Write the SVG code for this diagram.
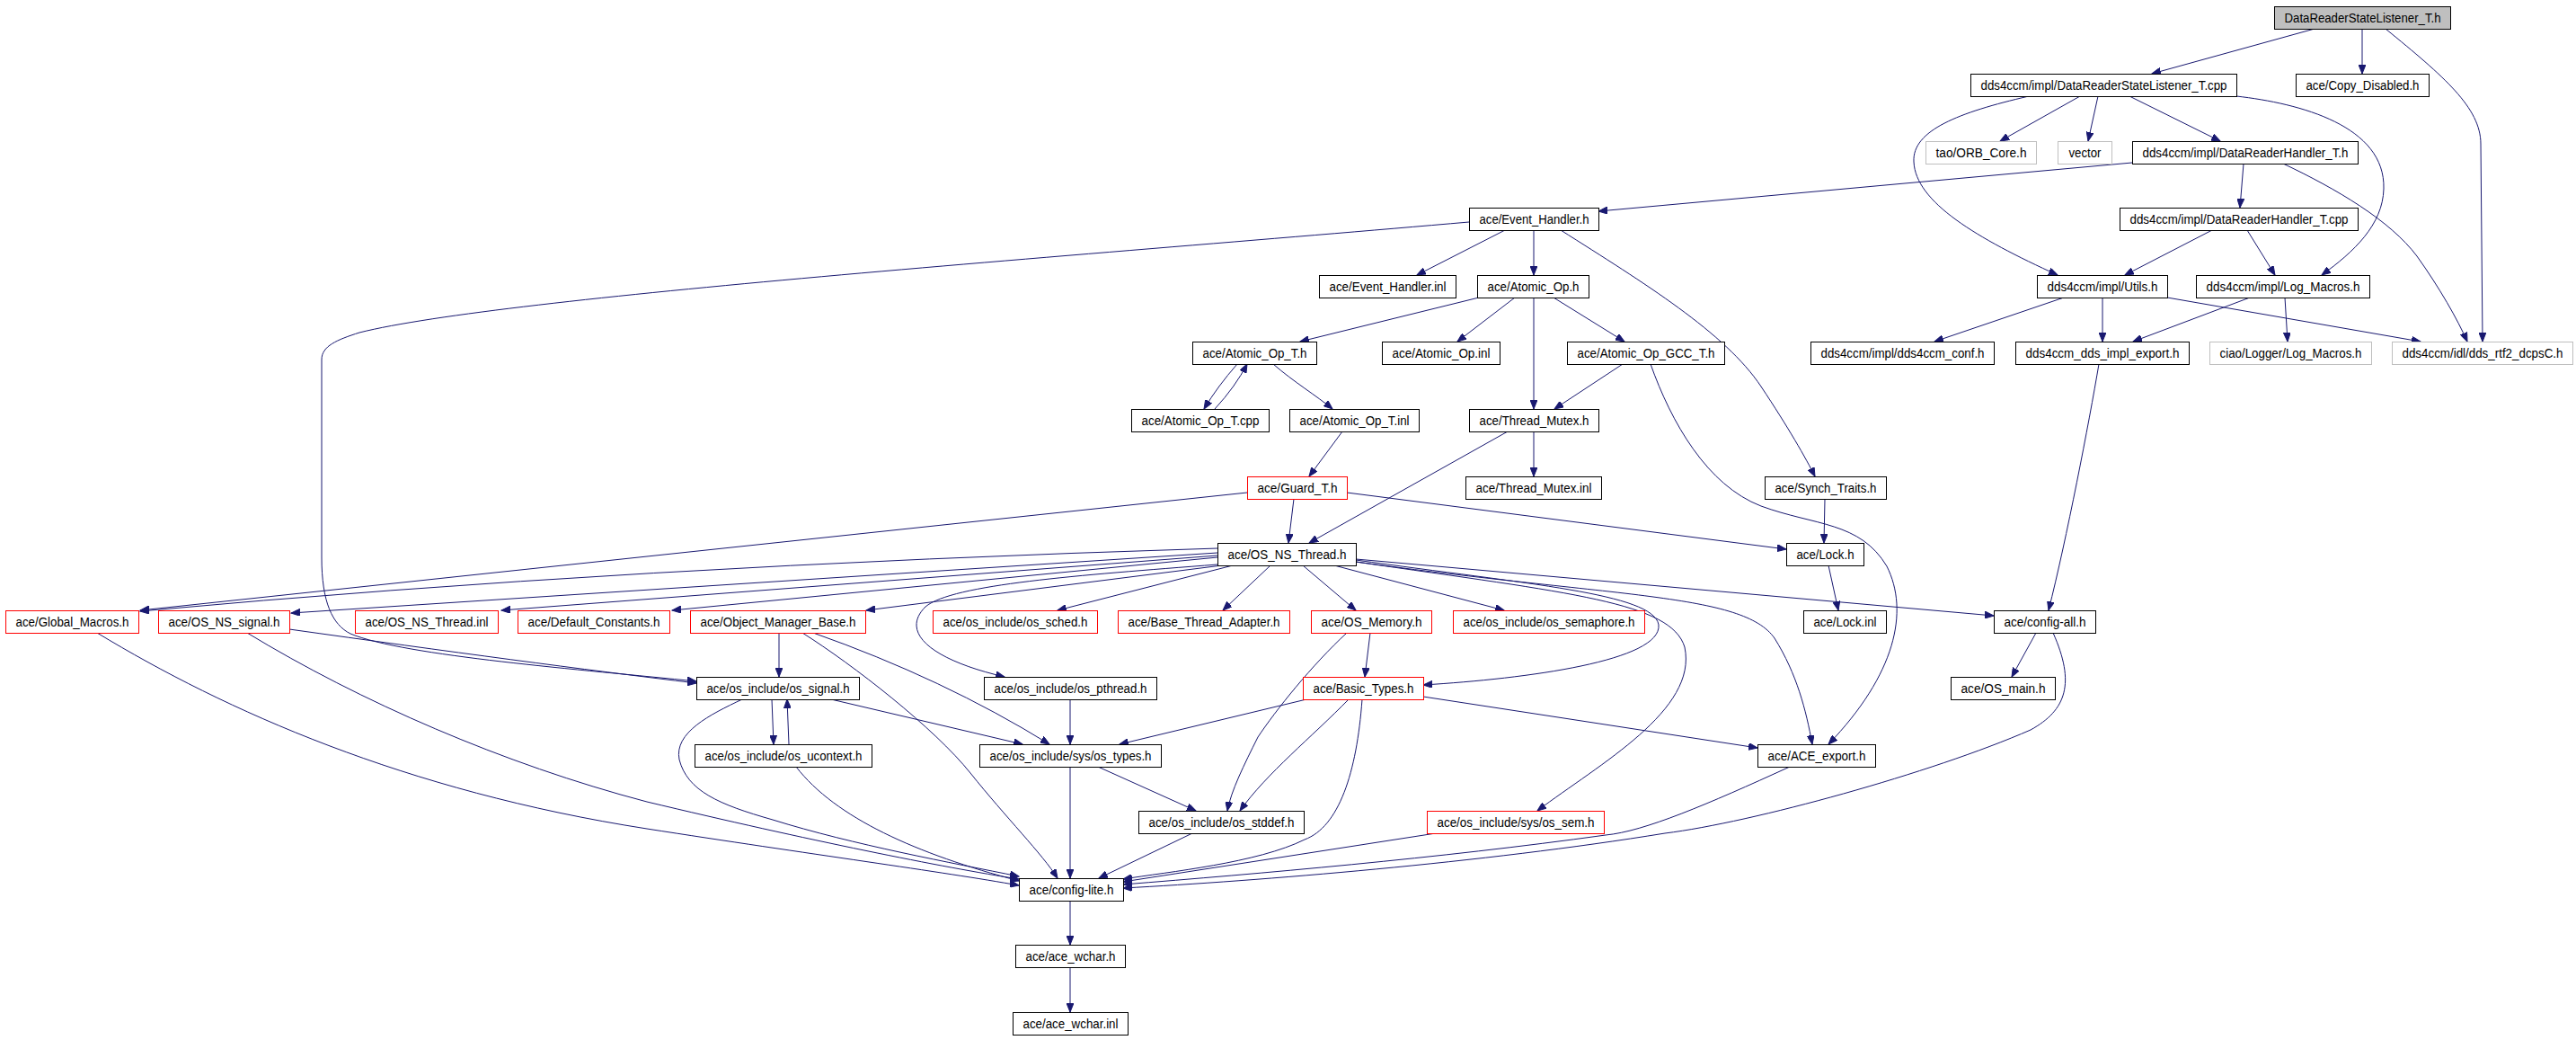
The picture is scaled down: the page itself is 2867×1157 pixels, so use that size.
<svg xmlns="http://www.w3.org/2000/svg" width="2867" height="1157" viewBox="0 0 2867 1157">
<defs>
<marker id="a" markerWidth="11" markerHeight="8" refX="10" refY="4" orient="auto" markerUnits="userSpaceOnUse">
<path d="M0,0 L10,4 L0,8 z" fill="#191970" stroke="#191970" stroke-width="1"/>
</marker>
<style>
rect{fill:#fff;stroke:#000;stroke-width:1}
.r rect{stroke:#ff0000}
.g rect{stroke:#bfbfbf}
.t rect{fill:#bfbfbf}
text{font-family:"Liberation Sans",Arial,sans-serif;font-size:14px;text-anchor:middle;fill:#000}
#edges path{fill:none;stroke:#191970;stroke-width:1;marker-end:url(#a)}
</style>
</defs>
<rect x="0" y="0" width="2867" height="1157" style="fill:#fff;stroke:none"/>
<g id="edges">
<path d="M2576,32 L2395,82"/>
<path d="M2629,32 L2629,82"/>
<path d="M2655,32 C2720,85 2761,120 2761,160 L2763,380"/>
<path d="M2315,107 L2226,157"/>
<path d="M2335,107 L2324,157"/>
<path d="M2370,107 L2471,157"/>
<path d="M2258,107 C2180,125 2128,145 2130,180 C2132,225 2200,265 2290,306"/>
<path d="M2489,107 C2560,115 2655,140 2653,210 C2652,250 2620,280 2584,306"/>
<path d="M2373,181 L1779,235"/>
<path d="M2497,182 L2493,231"/>
<path d="M2541,182 C2600,210 2660,245 2690,285 C2715,320 2735,355 2746,380"/>
<path d="M2462,256 L2365,306"/>
<path d="M2501,256 L2532,306"/>
<path d="M2297,331 L2153,380"/>
<path d="M2340,331 L2340,380"/>
<path d="M2412,331 L2694,380"/>
<path d="M2504,331 L2374,380"/>
<path d="M2543,331 L2546,380"/>
<path d="M2336,405 C2325,470 2300,600 2280,679"/>
<path d="M1675,256 L1577,306"/>
<path d="M1707,256 L1707,306"/>
<path d="M1737,256 C1830,315 1920,370 1960,430 C1990,475 2010,510 2020,530"/>
<path d="M1635,247 C1200,285 560,330 400,370 C375,378 358,385 358,400 L358,620 C358,670 370,695 390,705 C450,730 650,745 775,758"/>
<path d="M1646,331 L1447,380"/>
<path d="M1686,331 L1622,380"/>
<path d="M1729,331 L1808,380"/>
<path d="M1707,331 L1707,455"/>
<path d="M1377,405 Q1355,430 1340,455"/>
<path d="M1352,455 Q1375,430 1388,405"/>
<path d="M1417,405 C1440,425 1465,440 1483,455"/>
<path d="M1806,405 L1730,455"/>
<path d="M1837,405 C1860,470 1900,540 1960,563 C2020,585 2070,580 2100,630 C2125,680 2110,750 2035,828"/>
<path d="M1494,480 L1457,530"/>
<path d="M1707,480 L1707,530"/>
<path d="M1678,480 L1457,604"/>
<path d="M2031,555 L2030,604"/>
<path d="M1440,555 L1434,604"/>
<path d="M1499,548 L1988,611"/>
<path d="M2035,629 L2046,679"/>
<path d="M1388,548 L156,679"/>
<path d="M1355,610 Q700,630 156,680"/>
<path d="M1355,615 L324,682"/>
<path d="M1355,618 L558,679"/>
<path d="M1355,620 L748,679"/>
<path d="M1360,629 L964,679"/>
<path d="M1355,628 C1200,640 1060,650 1030,675 C1000,705 1040,735 1118,753"/>
<path d="M1372,629 L1177,679"/>
<path d="M1414,629 L1361,679"/>
<path d="M1450,629 L1509,679"/>
<path d="M1485,629 L1674,679"/>
<path d="M1509,623 C1700,650 1840,660 1846,695 C1850,735 1700,755 1584,762"/>
<path d="M1509,625 C1750,660 1860,670 1875,720 C1890,790 1780,850 1711,902"/>
<path d="M1509,625 C1800,665 1940,660 1975,710 C2000,750 2010,790 2017,828"/>
<path d="M1509,622 L2219,685"/>
<path d="M322,700 C500,725 650,745 775,760"/>
<path d="M275,704 C400,780 560,850 720,892 C900,935 1050,965 1134,978"/>
<path d="M108,704 C250,790 450,880 720,922 C900,950 1050,970 1134,985"/>
<path d="M867,704 L867,753"/>
<path d="M905,704 Q1050,755 1168,828"/>
<path d="M893,704 C950,740 1040,810 1080,860 C1120,910 1160,950 1177,977"/>
<path d="M859,778 L861,828"/>
<path d="M878,828 L876,778"/>
<path d="M925,778 L1138,828"/>
<path d="M826,778 C790,795 750,815 756,845 C765,880 800,895 860,912 C950,940 1060,960 1134,975"/>
<path d="M886,853 C930,910 1020,950 1134,980"/>
<path d="M1191,778 L1191,828"/>
<path d="M1454,778 L1246,828"/>
<path d="M1499,704 C1460,740 1420,790 1400,820 C1385,850 1370,880 1366,902"/>
<path d="M1501,778 C1460,820 1410,860 1380,902"/>
<path d="M1516,778 C1510,860 1490,920 1452,934 C1400,960 1300,970 1250,978"/>
<path d="M1584,775 L1956,832"/>
<path d="M1525,704 L1519,753"/>
<path d="M1222,853 L1331,902"/>
<path d="M1191,853 L1191,977"/>
<path d="M1327,927 L1223,977"/>
<path d="M1598,927 L1250,981"/>
<path d="M1992,853 C1900,895 1830,925 1787,929 C1600,955 1400,972 1250,984"/>
<path d="M2285,704 C2310,760 2300,790 2260,812 C2150,860 1950,915 1853,927 C1650,960 1400,980 1250,988"/>
<path d="M2266,704 L2239,753"/>
<path d="M1191,1002 L1191,1051"/>
<path d="M1191,1076 L1191,1126"/>
</g>
<g id="n1" class="t"><rect x="2531.5" y="7.5" width="196" height="25"/><text x="2629.5" y="25" textLength="174" lengthAdjust="spacingAndGlyphs">DataReaderStateListener_T.h</text></g>
<g id="n2"><rect x="2193.5" y="82.5" width="296" height="25"/><text x="2341.5" y="100" textLength="274" lengthAdjust="spacingAndGlyphs">dds4ccm/impl/DataReaderStateListener_T.cpp</text></g>
<g id="n3"><rect x="2555.5" y="82.5" width="148" height="25"/><text x="2629.5" y="100" textLength="126" lengthAdjust="spacingAndGlyphs">ace/Copy_Disabled.h</text></g>
<g id="n4" class="g"><rect x="2143.5" y="157.5" width="123" height="25"/><text x="2205" y="175" textLength="101" lengthAdjust="spacingAndGlyphs">tao/ORB_Core.h</text></g>
<g id="n5" class="g"><rect x="2290.5" y="157.5" width="60" height="25"/><text x="2320.5" y="175" textLength="36" lengthAdjust="spacingAndGlyphs">vector</text></g>
<g id="n6"><rect x="2373.5" y="157.5" width="251" height="25"/><text x="2499" y="175" textLength="229" lengthAdjust="spacingAndGlyphs">dds4ccm/impl/DataReaderHandler_T.h</text></g>
<g id="n7"><rect x="1635.5" y="231.5" width="144" height="25"/><text x="1707.5" y="249" textLength="122" lengthAdjust="spacingAndGlyphs">ace/Event_Handler.h</text></g>
<g id="n8"><rect x="2359.5" y="231.5" width="265" height="25"/><text x="2492" y="249" textLength="243" lengthAdjust="spacingAndGlyphs">dds4ccm/impl/DataReaderHandler_T.cpp</text></g>
<g id="n9"><rect x="1468.5" y="306.5" width="152" height="25"/><text x="1544.5" y="324" textLength="130" lengthAdjust="spacingAndGlyphs">ace/Event_Handler.inl</text></g>
<g id="n10"><rect x="1644.5" y="306.5" width="124" height="25"/><text x="1706.5" y="324" textLength="102" lengthAdjust="spacingAndGlyphs">ace/Atomic_Op.h</text></g>
<g id="n11"><rect x="2267.5" y="306.5" width="145" height="25"/><text x="2340" y="324" textLength="123" lengthAdjust="spacingAndGlyphs">dds4ccm/impl/Utils.h</text></g>
<g id="n12"><rect x="2444.5" y="306.5" width="193" height="25"/><text x="2541" y="324" textLength="171" lengthAdjust="spacingAndGlyphs">dds4ccm/impl/Log_Macros.h</text></g>
<g id="n13"><rect x="1327.5" y="380.5" width="138" height="25"/><text x="1396.5" y="398" textLength="116" lengthAdjust="spacingAndGlyphs">ace/Atomic_Op_T.h</text></g>
<g id="n14"><rect x="1538.5" y="380.5" width="131" height="25"/><text x="1604" y="398" textLength="109" lengthAdjust="spacingAndGlyphs">ace/Atomic_Op.inl</text></g>
<g id="n15"><rect x="1744.5" y="380.5" width="175" height="25"/><text x="1832" y="398" textLength="153" lengthAdjust="spacingAndGlyphs">ace/Atomic_Op_GCC_T.h</text></g>
<g id="n16"><rect x="2015.5" y="380.5" width="204" height="25"/><text x="2117.5" y="398" textLength="182" lengthAdjust="spacingAndGlyphs">dds4ccm/impl/dds4ccm_conf.h</text></g>
<g id="n17"><rect x="2243.5" y="380.5" width="193" height="25"/><text x="2340" y="398" textLength="171" lengthAdjust="spacingAndGlyphs">dds4ccm_dds_impl_export.h</text></g>
<g id="n18" class="g"><rect x="2459.5" y="380.5" width="180" height="25"/><text x="2549.5" y="398" textLength="158" lengthAdjust="spacingAndGlyphs">ciao/Logger/Log_Macros.h</text></g>
<g id="n19" class="g"><rect x="2662.5" y="380.5" width="201" height="25"/><text x="2763" y="398" textLength="179" lengthAdjust="spacingAndGlyphs">dds4ccm/idl/dds_rtf2_dcpsC.h</text></g>
<g id="n20"><rect x="1259.5" y="455.5" width="153" height="25"/><text x="1336" y="473" textLength="131" lengthAdjust="spacingAndGlyphs">ace/Atomic_Op_T.cpp</text></g>
<g id="n21"><rect x="1435.5" y="455.5" width="144" height="25"/><text x="1507.5" y="473" textLength="122" lengthAdjust="spacingAndGlyphs">ace/Atomic_Op_T.inl</text></g>
<g id="n22"><rect x="1635.5" y="455.5" width="144" height="25"/><text x="1707.5" y="473" textLength="122" lengthAdjust="spacingAndGlyphs">ace/Thread_Mutex.h</text></g>
<g id="n23" class="r"><rect x="1388.5" y="530.5" width="111" height="25"/><text x="1444" y="548" textLength="89" lengthAdjust="spacingAndGlyphs">ace/Guard_T.h</text></g>
<g id="n24"><rect x="1631.5" y="530.5" width="151" height="25"/><text x="1707" y="548" textLength="129" lengthAdjust="spacingAndGlyphs">ace/Thread_Mutex.inl</text></g>
<g id="n25"><rect x="1964.5" y="530.5" width="135" height="25"/><text x="2032" y="548" textLength="113" lengthAdjust="spacingAndGlyphs">ace/Synch_Traits.h</text></g>
<g id="n26"><rect x="1355.5" y="604.5" width="154" height="25"/><text x="1432.5" y="622" textLength="132" lengthAdjust="spacingAndGlyphs">ace/OS_NS_Thread.h</text></g>
<g id="n27"><rect x="1988.5" y="604.5" width="86" height="25"/><text x="2031.5" y="622" textLength="64" lengthAdjust="spacingAndGlyphs">ace/Lock.h</text></g>
<g id="n28" class="r"><rect x="6.5" y="679.5" width="148" height="25"/><text x="80.5" y="697" textLength="126" lengthAdjust="spacingAndGlyphs">ace/Global_Macros.h</text></g>
<g id="n29" class="r"><rect x="176.5" y="679.5" width="146" height="25"/><text x="249.5" y="697" textLength="124" lengthAdjust="spacingAndGlyphs">ace/OS_NS_signal.h</text></g>
<g id="n30" class="r"><rect x="395.5" y="679.5" width="159" height="25"/><text x="475" y="697" textLength="137" lengthAdjust="spacingAndGlyphs">ace/OS_NS_Thread.inl</text></g>
<g id="n31" class="r"><rect x="576.5" y="679.5" width="169" height="25"/><text x="661" y="697" textLength="147" lengthAdjust="spacingAndGlyphs">ace/Default_Constants.h</text></g>
<g id="n32" class="r"><rect x="768.5" y="679.5" width="195" height="25"/><text x="866" y="697" textLength="173" lengthAdjust="spacingAndGlyphs">ace/Object_Manager_Base.h</text></g>
<g id="n33" class="r"><rect x="1038.5" y="679.5" width="183" height="25"/><text x="1130" y="697" textLength="161" lengthAdjust="spacingAndGlyphs">ace/os_include/os_sched.h</text></g>
<g id="n34" class="r"><rect x="1244.5" y="679.5" width="191" height="25"/><text x="1340" y="697" textLength="169" lengthAdjust="spacingAndGlyphs">ace/Base_Thread_Adapter.h</text></g>
<g id="n35" class="r"><rect x="1459.5" y="679.5" width="134" height="25"/><text x="1526.5" y="697" textLength="112" lengthAdjust="spacingAndGlyphs">ace/OS_Memory.h</text></g>
<g id="n36" class="r"><rect x="1617.5" y="679.5" width="213" height="25"/><text x="1724" y="697" textLength="191" lengthAdjust="spacingAndGlyphs">ace/os_include/os_semaphore.h</text></g>
<g id="n37"><rect x="2007.5" y="679.5" width="92" height="25"/><text x="2053.5" y="697" textLength="70" lengthAdjust="spacingAndGlyphs">ace/Lock.inl</text></g>
<g id="n38"><rect x="2219.5" y="679.5" width="113" height="25"/><text x="2276" y="697" textLength="91" lengthAdjust="spacingAndGlyphs">ace/config-all.h</text></g>
<g id="n39"><rect x="775.5" y="753.5" width="181" height="25"/><text x="866" y="771" textLength="159" lengthAdjust="spacingAndGlyphs">ace/os_include/os_signal.h</text></g>
<g id="n40"><rect x="1095.5" y="753.5" width="192" height="25"/><text x="1191.5" y="771" textLength="170" lengthAdjust="spacingAndGlyphs">ace/os_include/os_pthread.h</text></g>
<g id="n41" class="r"><rect x="1450.5" y="753.5" width="134" height="25"/><text x="1517.5" y="771" textLength="112" lengthAdjust="spacingAndGlyphs">ace/Basic_Types.h</text></g>
<g id="n42"><rect x="2171.5" y="753.5" width="116" height="25"/><text x="2229.5" y="771" textLength="94" lengthAdjust="spacingAndGlyphs">ace/OS_main.h</text></g>
<g id="n43"><rect x="773.5" y="828.5" width="197" height="25"/><text x="872" y="846" textLength="175" lengthAdjust="spacingAndGlyphs">ace/os_include/os_ucontext.h</text></g>
<g id="n44"><rect x="1090.5" y="828.5" width="202" height="25"/><text x="1191.5" y="846" textLength="180" lengthAdjust="spacingAndGlyphs">ace/os_include/sys/os_types.h</text></g>
<g id="n45"><rect x="1956.5" y="828.5" width="131" height="25"/><text x="2022" y="846" textLength="109" lengthAdjust="spacingAndGlyphs">ace/ACE_export.h</text></g>
<g id="n46"><rect x="1267.5" y="902.5" width="184" height="25"/><text x="1359.5" y="920" textLength="162" lengthAdjust="spacingAndGlyphs">ace/os_include/os_stddef.h</text></g>
<g id="n47" class="r"><rect x="1588.5" y="902.5" width="197" height="25"/><text x="1687" y="920" textLength="175" lengthAdjust="spacingAndGlyphs">ace/os_include/sys/os_sem.h</text></g>
<g id="n48"><rect x="1134.5" y="977.5" width="116" height="25"/><text x="1192.5" y="995" textLength="94" lengthAdjust="spacingAndGlyphs">ace/config-lite.h</text></g>
<g id="n49"><rect x="1130.5" y="1051.5" width="122" height="25"/><text x="1191.5" y="1069" textLength="100" lengthAdjust="spacingAndGlyphs">ace/ace_wchar.h</text></g>
<g id="n50"><rect x="1127.5" y="1126.5" width="128" height="25"/><text x="1191.5" y="1144" textLength="106" lengthAdjust="spacingAndGlyphs">ace/ace_wchar.inl</text></g>
</svg>
